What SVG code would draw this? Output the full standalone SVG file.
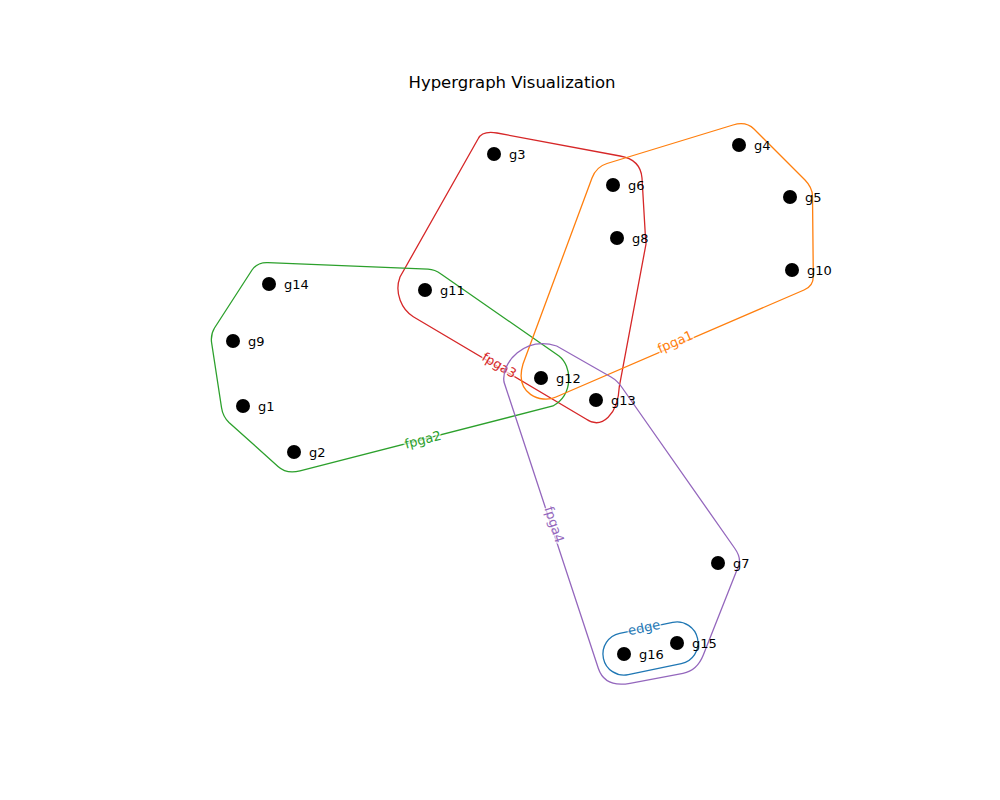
<svg xmlns="http://www.w3.org/2000/svg" width="1000" height="800" viewBox="0 0 1000 800">
<style>
.hull{fill:none;stroke-width:1.3}
.node circle{fill:#000}
.node text{font-family:"DejaVu Sans",sans-serif;font-size:13px;fill:#000}
.hl{font-family:"DejaVu Sans",sans-serif;font-size:13px;text-anchor:middle;paint-order:stroke;stroke:#fff;stroke-width:3;stroke-opacity:0.7}
</style>
<rect width="1000" height="800" fill="#fff"/>
<text x="512" y="88" text-anchor="middle" font-family="DejaVu Sans, sans-serif" font-size="16.5">Hypergraph Visualization</text>
<g id="edges">
<g id="fpga3">
<path class="hull" stroke="#d62728" d="M478,139 Q482,130.5 497,133 L620,156 Q640.5,159.5 642,178 L645.5,238 L646,244 L619.3,386.7 C618,414 602,430 586,419 L413.3,316.7 C402,310 394,293 400,277 Z"/>
<text class="hl" fill="#d62728" transform="translate(497,369) rotate(30.4)">fpga3</text>
</g>
<g id="fpga2">
<path class="hull" stroke="#2ca02c" d="M214.5,328 L252,270 Q257.5,262 268,262.6 L428,269.2 Q435,269.6 441,274 L559,356 C572,366 574,394 553,406 L300,470.8 Q286.6,474.3 278,466.5 L229,422.5 Q222.8,416.5 221.5,407.5 L211.5,342 Q210.7,334 214.5,328 Z"/>
<text class="hl" fill="#2ca02c" transform="translate(424,444) rotate(-14.4)">fpga2</text>
</g>
<g id="fpga1">
<path class="hull" stroke="#ff7f0e" d="M607,163.5 L733,125 Q746,121 754,129 L805,180 Q812.3,187.5 812.5,196 L813.3,276 Q813.5,286 804,290 L556,397 C541,404 514,394 523,364 L592,178 Q596.3,166.7 607,163.5 Z"/>
<text class="hl" fill="#ff7f0e" transform="translate(677,346) rotate(-23.4)">fpga1</text>
</g>
<g id="fpga4">
<path class="hull" stroke="#9467bd" d="M504,382 C501,362 525,336 556.7,346 L611,377 Q617.4,380.7 622,387.5 L734.5,548 Q741.7,558 738.5,566 L703.3,655 Q697,670.8 683,673.3 L630,683.3 Q604.8,688 598.3,668.3 Z"/>
<text class="hl" fill="#9467bd" transform="translate(550,526) rotate(71.8)">fpga4</text>
</g>
<g id="edge">
<path class="hull" stroke="#1f77b4" d="M619.7,633.4 L672.7,622.4 A21 21 0 0 1 681.3,663.6 L628.3,674.6 A21 21 0 0 1 619.7,633.4 Z"/>
<text class="hl" fill="#1f77b4" transform="translate(645,632) rotate(-11.7)">edge</text>
</g>
</g>
<g id="g1" class="node"><circle cx="243" cy="406" r="7"/><text x="258" y="411">g1</text></g>
<g id="g2" class="node"><circle cx="294" cy="452" r="7"/><text x="309" y="457">g2</text></g>
<g id="g3" class="node"><circle cx="494" cy="154" r="7"/><text x="509" y="159">g3</text></g>
<g id="g4" class="node"><circle cx="739" cy="145" r="7"/><text x="754" y="150">g4</text></g>
<g id="g5" class="node"><circle cx="790" cy="197" r="7"/><text x="805" y="202">g5</text></g>
<g id="g6" class="node"><circle cx="613" cy="185" r="7"/><text x="628" y="190">g6</text></g>
<g id="g7" class="node"><circle cx="718" cy="563" r="7"/><text x="733" y="568">g7</text></g>
<g id="g8" class="node"><circle cx="617" cy="238" r="7"/><text x="632" y="243">g8</text></g>
<g id="g9" class="node"><circle cx="233" cy="341" r="7"/><text x="248" y="346">g9</text></g>
<g id="g10" class="node"><circle cx="792" cy="270" r="7"/><text x="807" y="275">g10</text></g>
<g id="g11" class="node"><circle cx="425" cy="290" r="7"/><text x="440" y="295">g11</text></g>
<g id="g12" class="node"><circle cx="541" cy="378" r="7"/><text x="556" y="383">g12</text></g>
<g id="g13" class="node"><circle cx="596" cy="400" r="7"/><text x="611" y="405">g13</text></g>
<g id="g14" class="node"><circle cx="269" cy="284" r="7"/><text x="284" y="289">g14</text></g>
<g id="g15" class="node"><circle cx="677" cy="643" r="7"/><text x="692" y="648">g15</text></g>
<g id="g16" class="node"><circle cx="624" cy="654" r="7"/><text x="639" y="659">g16</text></g>
</svg>
